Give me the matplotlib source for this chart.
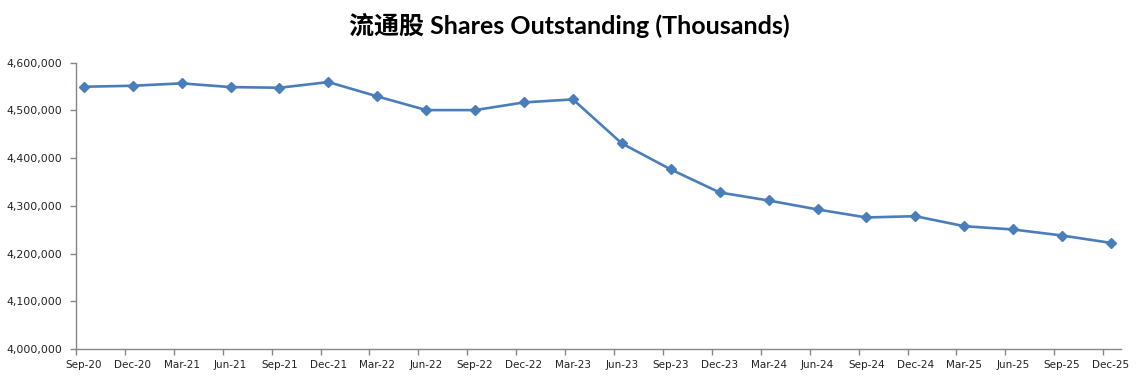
import numpy as np
import matplotlib
matplotlib.use("Agg")
import matplotlib.pyplot as plt
from matplotlib.ticker import FuncFormatter

# quarter labels and shares outstanding (thousands)
quarters = ["Sep-20", "Dec-20", "Mar-21", "Jun-21", "Sep-21", "Dec-21",
            "Mar-22", "Jun-22", "Sep-22", "Dec-22", "Mar-23", "Jun-23",
            "Sep-23", "Dec-23", "Mar-24", "Jun-24", "Sep-24", "Dec-24",
            "Mar-25", "Jun-25", "Sep-25", "Dec-25"]
shares = [4549700, 4551800, 4556800, 4549000, 4547600, 4559500,
          4529500, 4500800, 4500800, 4516900, 4523200, 4430900,
          4376400, 4328100, 4311300, 4292500, 4275700, 4278400,
          4257400, 4250500, 4237900, 4222400]
y_ticks = [4000000, 4100000, 4200000, 4300000, 4400000, 4500000, 4600000]

LINE = "#4A7EBB"
AXIS = "#868686"

fig = plt.figure(figsize=(11.39, 3.85), dpi=100)
ax = fig.add_axes([0.0667, 0.0935, 0.9173, 0.7435])

x = np.arange(len(quarters))
ax.plot(x, shares, color=LINE, linewidth=1.9, marker="D", markersize=5.5,
        markerfacecolor=LINE, markeredgecolor=LINE)

ax.set_ylim(y_ticks[0], y_ticks[-1])
ax.set_yticks(y_ticks)
ax.yaxis.set_major_formatter(FuncFormatter(lambda v, p: f"{int(v):,}"))
ax.set_xlim(-0.16, len(quarters) - 1 + 0.2)

# labels sit under each point, tick marks just left of them
ax.set_xticks(x)
ax.set_xticklabels(quarters)
ax.set_xticks(x - 0.16, minor=True)
ax.tick_params(axis="x", which="major", length=0, pad=8, labelsize=7.5,
               labelcolor="#222222")
ax.tick_params(axis="x", which="minor", length=4, width=1, color=AXIS,
               direction="out")
ax.tick_params(axis="y", length=4, width=1, color=AXIS, direction="out",
               labelsize=7.8, labelcolor="#222222", pad=6)

for side in ("top", "right"):
    ax.spines[side].set_visible(False)
for side in ("left", "bottom"):
    ax.spines[side].set_color(AXIS)
    ax.spines[side].set_linewidth(1)

fig.text(0.5, 0.935, "流通股 Shares Outstanding (Thousands)", ha="center",
         va="center", fontsize=18, fontweight="bold",
         family=["Lato", "Noto Sans CJK SC"])

fig.savefig("out.png", dpi=100)
